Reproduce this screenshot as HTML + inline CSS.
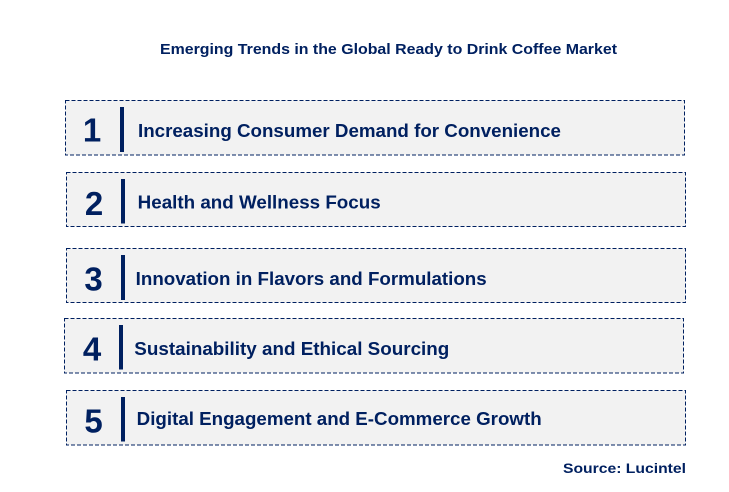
<!DOCTYPE html>
<html>
<head>
<meta charset="utf-8">
<style>
  html,body{margin:0;padding:0;background:#ffffff;}
  svg{display:block;}
  text{font-family:"Liberation Sans",Arial,sans-serif;font-weight:bold;fill:#002060;}
</style>
</head>
<body>
<svg width="729" height="492" viewBox="0 0 729 492" xmlns="http://www.w3.org/2000/svg">
  <rect x="0" y="0" width="729" height="492" fill="#ffffff"/>
  <text x="388.5" y="54" font-size="15" text-anchor="middle" textLength="457" lengthAdjust="spacingAndGlyphs">Emerging Trends in the Global Ready to Drink Coffee Market</text>

  <g fill="#f2f2f2" stroke="#002060" stroke-width="1" stroke-dasharray="4,2">
    <rect x="65.5" y="100.5" width="619" height="54.5"/>
    <rect x="66.5" y="172.5" width="619" height="54"/>
    <rect x="66.5" y="248.5" width="619" height="54"/>
    <rect x="64.5" y="318.5" width="619" height="54.5"/>
    <rect x="66.5" y="390.5" width="619" height="54.5"/>
  </g>

  <g fill="#002060">
    <rect x="120" y="107" width="4" height="45"/>
    <rect x="121" y="179" width="4" height="44.5"/>
    <rect x="121" y="255" width="4" height="45"/>
    <rect x="119" y="325" width="4" height="44.5"/>
    <rect x="121" y="397" width="4" height="44.5"/>
  </g>

  <g font-size="33" text-anchor="middle">
    <text x="92" y="141.5">1</text>
    <text x="94" y="215">2</text>
    <text x="93.5" y="290.5">3</text>
    <text x="92" y="360.5">4</text>
    <text x="93.5" y="432.5">5</text>
  </g>

  <g font-size="18.5">
    <text x="138" y="137" textLength="423" lengthAdjust="spacingAndGlyphs">Increasing Consumer Demand for Convenience</text>
    <text x="137.7" y="208.5" textLength="243" lengthAdjust="spacingAndGlyphs">Health and Wellness Focus</text>
    <text x="135.7" y="285" textLength="351" lengthAdjust="spacingAndGlyphs">Innovation in Flavors and Formulations</text>
    <text x="134.3" y="355" textLength="315" lengthAdjust="spacingAndGlyphs">Sustainability and Ethical Sourcing</text>
    <text x="136.7" y="425" textLength="405" lengthAdjust="spacingAndGlyphs">Digital Engagement and E-Commerce Growth</text>
  </g>

  <text x="686" y="473" font-size="14" text-anchor="end" textLength="123" lengthAdjust="spacingAndGlyphs">Source: Lucintel</text>
</svg>
</body>
</html>
